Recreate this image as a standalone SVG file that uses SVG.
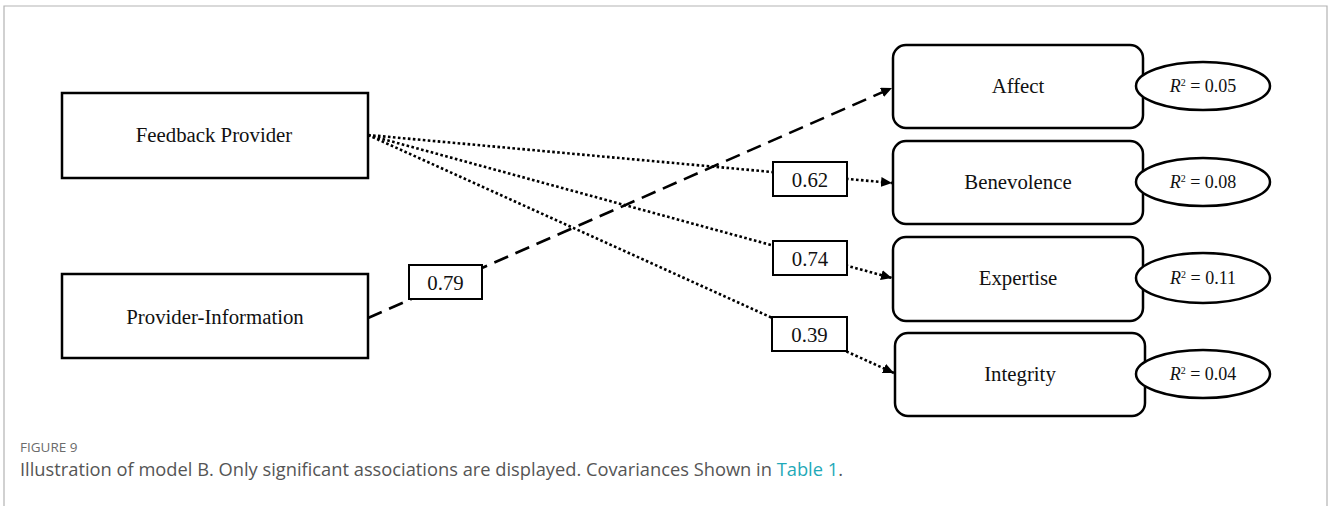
<svg xmlns="http://www.w3.org/2000/svg" width="1328" height="506" viewBox="0 0 1328 506">
<style>
.frame{stroke:#b3b3b3;stroke-width:1.2;fill:none}
.node{fill:#fff;stroke:#000;stroke-width:2.5}
.lbl{fill:#fff;stroke:#000;stroke-width:2}
.ell{fill:#fff;stroke:#000;stroke-width:2.5}
.t{font-family:"Liberation Serif","Times New Roman",serif;font-size:20.8px;fill:#111;text-anchor:middle}
.r2{font-family:"Liberation Serif","Times New Roman",serif;font-size:18px;fill:#111;text-anchor:middle}
.dot{fill:none;stroke:#000;stroke-width:2.6;stroke-dasharray:2.6 2.4}
.dash{fill:none;stroke:#000;stroke-width:2.6;stroke-dasharray:15 8}
.cap1{font-family:"Open Sans","Noto Sans",sans-serif;font-size:13.5px;fill:#6b6b6b}
.cap2{font-family:"Open Sans","Noto Sans",sans-serif;font-size:17.5px;fill:#555}
</style>
<defs>
<marker id="ah" markerUnits="userSpaceOnUse" markerWidth="12" markerHeight="10" refX="11" refY="5" orient="auto">
<path d="M0,0 L11,5 L0,10 Z" fill="#000"/>
</marker>
</defs>
<rect width="1328" height="506" fill="#fff"/>
<path class="frame" d="M4,506 V6 H1327 V506"/>
<g id="connectors">
<line class="dash" x1="368" y1="318" x2="892" y2="88" marker-end="url(#ah)"/>
<line class="dot" x1="368" y1="135" x2="892" y2="183" marker-end="url(#ah)"/>
<line class="dot" x1="368" y1="135" x2="892" y2="278" marker-end="url(#ah)"/>
<line class="dot" x1="368" y1="135" x2="894" y2="373" marker-end="url(#ah)"/>
</g>
<g id="feedback-provider">
<rect class="node" x="62" y="93" width="306" height="85"/>
<text class="t" x="214" y="142">Feedback Provider</text>
</g>
<g id="provider-information">
<rect class="node" x="62" y="274" width="306" height="84"/>
<text class="t" x="215" y="324">Provider-Information</text>
</g>
<g id="label-079">
<rect class="lbl" x="409" y="265" width="73" height="34"/>
<text class="t" x="445.5" y="290">0.79</text>
</g>
<g id="label-062">
<rect class="lbl" x="773" y="162" width="74" height="34"/>
<text class="t" x="810" y="187">0.62</text>
</g>
<g id="label-074">
<rect class="lbl" x="773" y="241" width="74" height="34"/>
<text class="t" x="810" y="266">0.74</text>
</g>
<g id="label-039">
<rect class="lbl" x="772" y="317" width="75" height="34"/>
<text class="t" x="809.5" y="342">0.39</text>
</g>
<g id="affect">
<rect class="node" x="893" y="45" width="250" height="83" rx="13"/>
<text class="t" x="1018" y="93">Affect</text>
<ellipse class="ell" cx="1203" cy="86" rx="67" ry="24"/>
<text class="r2" x="1203" y="92"><tspan font-style="italic">R</tspan><tspan font-size="10" dy="-6">2</tspan><tspan dy="6"> = 0.05</tspan></text>
</g>
<g id="benevolence">
<rect class="node" x="893" y="141" width="250" height="83" rx="13"/>
<text class="t" x="1018" y="189">Benevolence</text>
<ellipse class="ell" cx="1203" cy="182" rx="67" ry="24"/>
<text class="r2" x="1203" y="188"><tspan font-style="italic">R</tspan><tspan font-size="10" dy="-6">2</tspan><tspan dy="6"> = 0.08</tspan></text>
</g>
<g id="expertise">
<rect class="node" x="893" y="237" width="250" height="84" rx="13"/>
<text class="t" x="1018" y="285">Expertise</text>
<ellipse class="ell" cx="1203" cy="278" rx="67" ry="25"/>
<text class="r2" x="1203" y="284"><tspan font-style="italic">R</tspan><tspan font-size="10" dy="-6">2</tspan><tspan dy="6"> = 0.11</tspan></text>
</g>
<g id="integrity">
<rect class="node" x="895" y="333" width="250" height="83" rx="13"/>
<text class="t" x="1020" y="381">Integrity</text>
<ellipse class="ell" cx="1203" cy="374" rx="67" ry="24"/>
<text class="r2" x="1203" y="380"><tspan font-style="italic">R</tspan><tspan font-size="10" dy="-6">2</tspan><tspan dy="6"> = 0.04</tspan></text>
</g>
<g id="caption">
<text class="cap1" x="20" y="452">FIGURE 9</text>
<text class="cap2" x="20" y="476" textLength="823" lengthAdjust="spacingAndGlyphs">Illustration of model B. Only significant associations are displayed. Covariances Shown in <tspan fill="#1fa9b8">Table 1</tspan>.</text>
</g>
</svg>
